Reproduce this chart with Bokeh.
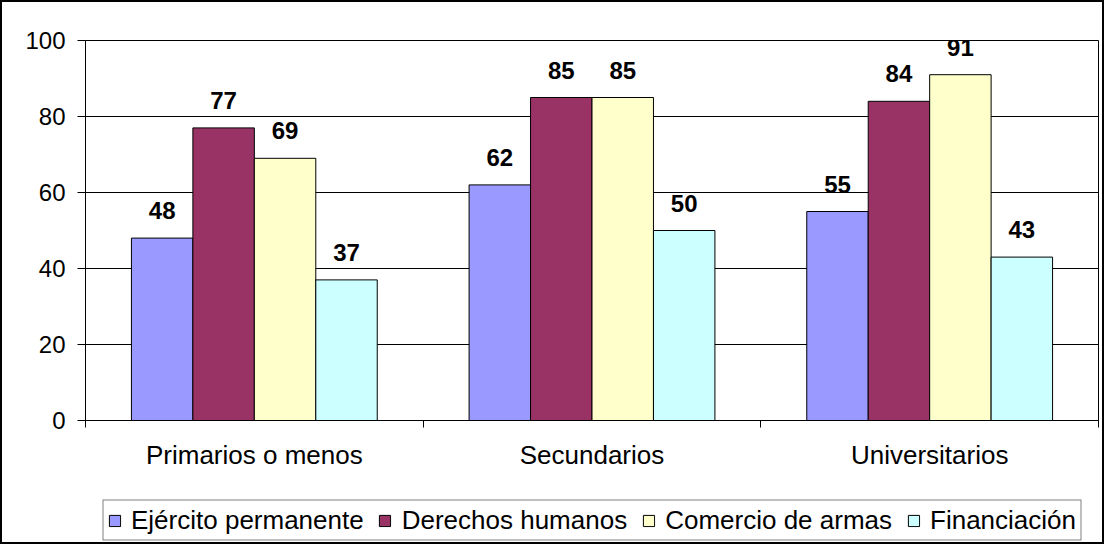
from bokeh.plotting import figure
from bokeh.layouts import column
from bokeh.models import Range1d, FixedTicker, Legend, LegendItem, ColumnDataSource
from bokeh.embed import file_html
from bokeh.resources import INLINE
from bokeh.core.properties import value

categories = ["Primarios o menos", "Secundarios", "Universitarios"]
series_names = ["Ejército permanente", "Derechos humanos", "Comercio de armas", "Financiación"]
ejercito = [48, 62, 55]
derechos = [77, 85, 84]
comercio = [69, 85, 91]
financiacion = [37, 50, 43]
colors = ["#9999FF", "#993366", "#FFFFCC", "#CCFFFF"]
y_ticks = [0, 20, 40, 60, 80, 100]

series_values = [ejercito, derechos, comercio, financiacion]

FONT = "Liberation Sans"
FS = "24px"
FS_CAT = "26px"
BAR_W = 0.182

p = figure(width=1100, height=496, output_backend="svg", toolbar_location=None,
           x_range=Range1d(0, len(categories)), y_range=Range1d(0, 100),
           min_border_left=83, min_border_right=4, min_border_top=38, min_border_bottom=78)
p.background_fill_color = "white"
p.border_fill_color = "white"
p.outline_line_color = "black"
p.outline_line_width = 1

# y axis
p.yaxis.ticker = FixedTicker(ticks=y_ticks)
p.yaxis.axis_line_color = "black"
p.yaxis.major_tick_line_color = "black"
p.yaxis.major_tick_out = 8
p.yaxis.major_tick_in = 0
p.yaxis.minor_tick_line_color = None
p.yaxis.major_label_standoff = 12
p.yaxis.major_label_text_font = FONT
p.yaxis.major_label_text_font_size = FS
p.yaxis.major_label_text_color = "black"

# x axis: labels at centers, tick marks at boundaries
centers = [i + 0.5 for i in range(len(categories))]
bounds = [i for i in range(len(categories) + 1)]
p.xaxis.ticker = FixedTicker(ticks=centers, minor_ticks=bounds)
p.xaxis.major_label_overrides = {c: name for c, name in zip(centers, categories)}
p.xaxis.major_tick_line_color = None
p.xaxis.major_tick_out = 0
p.xaxis.major_tick_in = 0
p.xaxis.minor_tick_line_color = "black"
p.xaxis.minor_tick_out = 7
p.xaxis.minor_tick_in = 0
p.xaxis.axis_line_color = "black"
p.xaxis.major_label_standoff = 12
p.xaxis.major_label_text_font = FONT
p.xaxis.major_label_text_font_size = FS_CAT
p.xaxis.major_label_text_color = "black"

p.xgrid.grid_line_color = None
p.ygrid.grid_line_color = "black"
p.ygrid.grid_line_width = 1
p.ygrid.ticker = FixedTicker(ticks=y_ticks)

sources = []
for k, (name, vals, col) in enumerate(zip(series_names, series_values, colors)):
    off = (k - 1.5) * BAR_W
    xs = [c + off for c in centers]
    src = ColumnDataSource(dict(x=xs, top=vals, label=[str(v) for v in vals]))
    sources.append(src)
    p.vbar(x="x", top="top", bottom=0, width=BAR_W, source=src,
           fill_color=col, line_color="black", line_width=1)
    p.text(x="x", y="top", text="label", source=src, text_align="center",
           text_baseline="bottom", y_offset=-19, text_font=value(FONT),
           text_font_style="bold", text_font_size=FS, text_color="black")

# legend strip below the chart: its view is far from the data, so only the legend shows
lg = figure(width=1100, height=44, output_backend="svg", toolbar_location=None,
            x_range=Range1d(100, 101), y_range=Range1d(1000, 1001),
            x_axis_location=None, y_axis_location=None,
            min_border_left=83, min_border_right=4, min_border_top=0, min_border_bottom=0)
lg.outline_line_color = None
lg.grid.visible = False
lg.background_fill_color = "white"
lg.border_fill_color = "white"

items = []
for name, col, src in zip(series_names, colors, sources):
    r = lg.vbar(x="x", top="top", bottom=0, width=BAR_W, source=src,
                fill_color=col, line_color="black", line_width=1)
    items.append(LegendItem(label=name, renderers=[r]))

legend = Legend(items=items, orientation="horizontal", location="center",
                glyph_width=14, glyph_height=14, label_standoff=10, spacing=14,
                padding=4, margin=0, border_line_color="black", border_line_width=1,
                label_text_font=FONT, label_text_font_size=FS_CAT,
                label_text_color="black", background_fill_alpha=1)
lg.add_layout(legend, "center")

layout = column(p, lg, spacing=0, styles={"border": "2px solid black"})

open("out.html", "w").write(file_html(layout, INLINE))
